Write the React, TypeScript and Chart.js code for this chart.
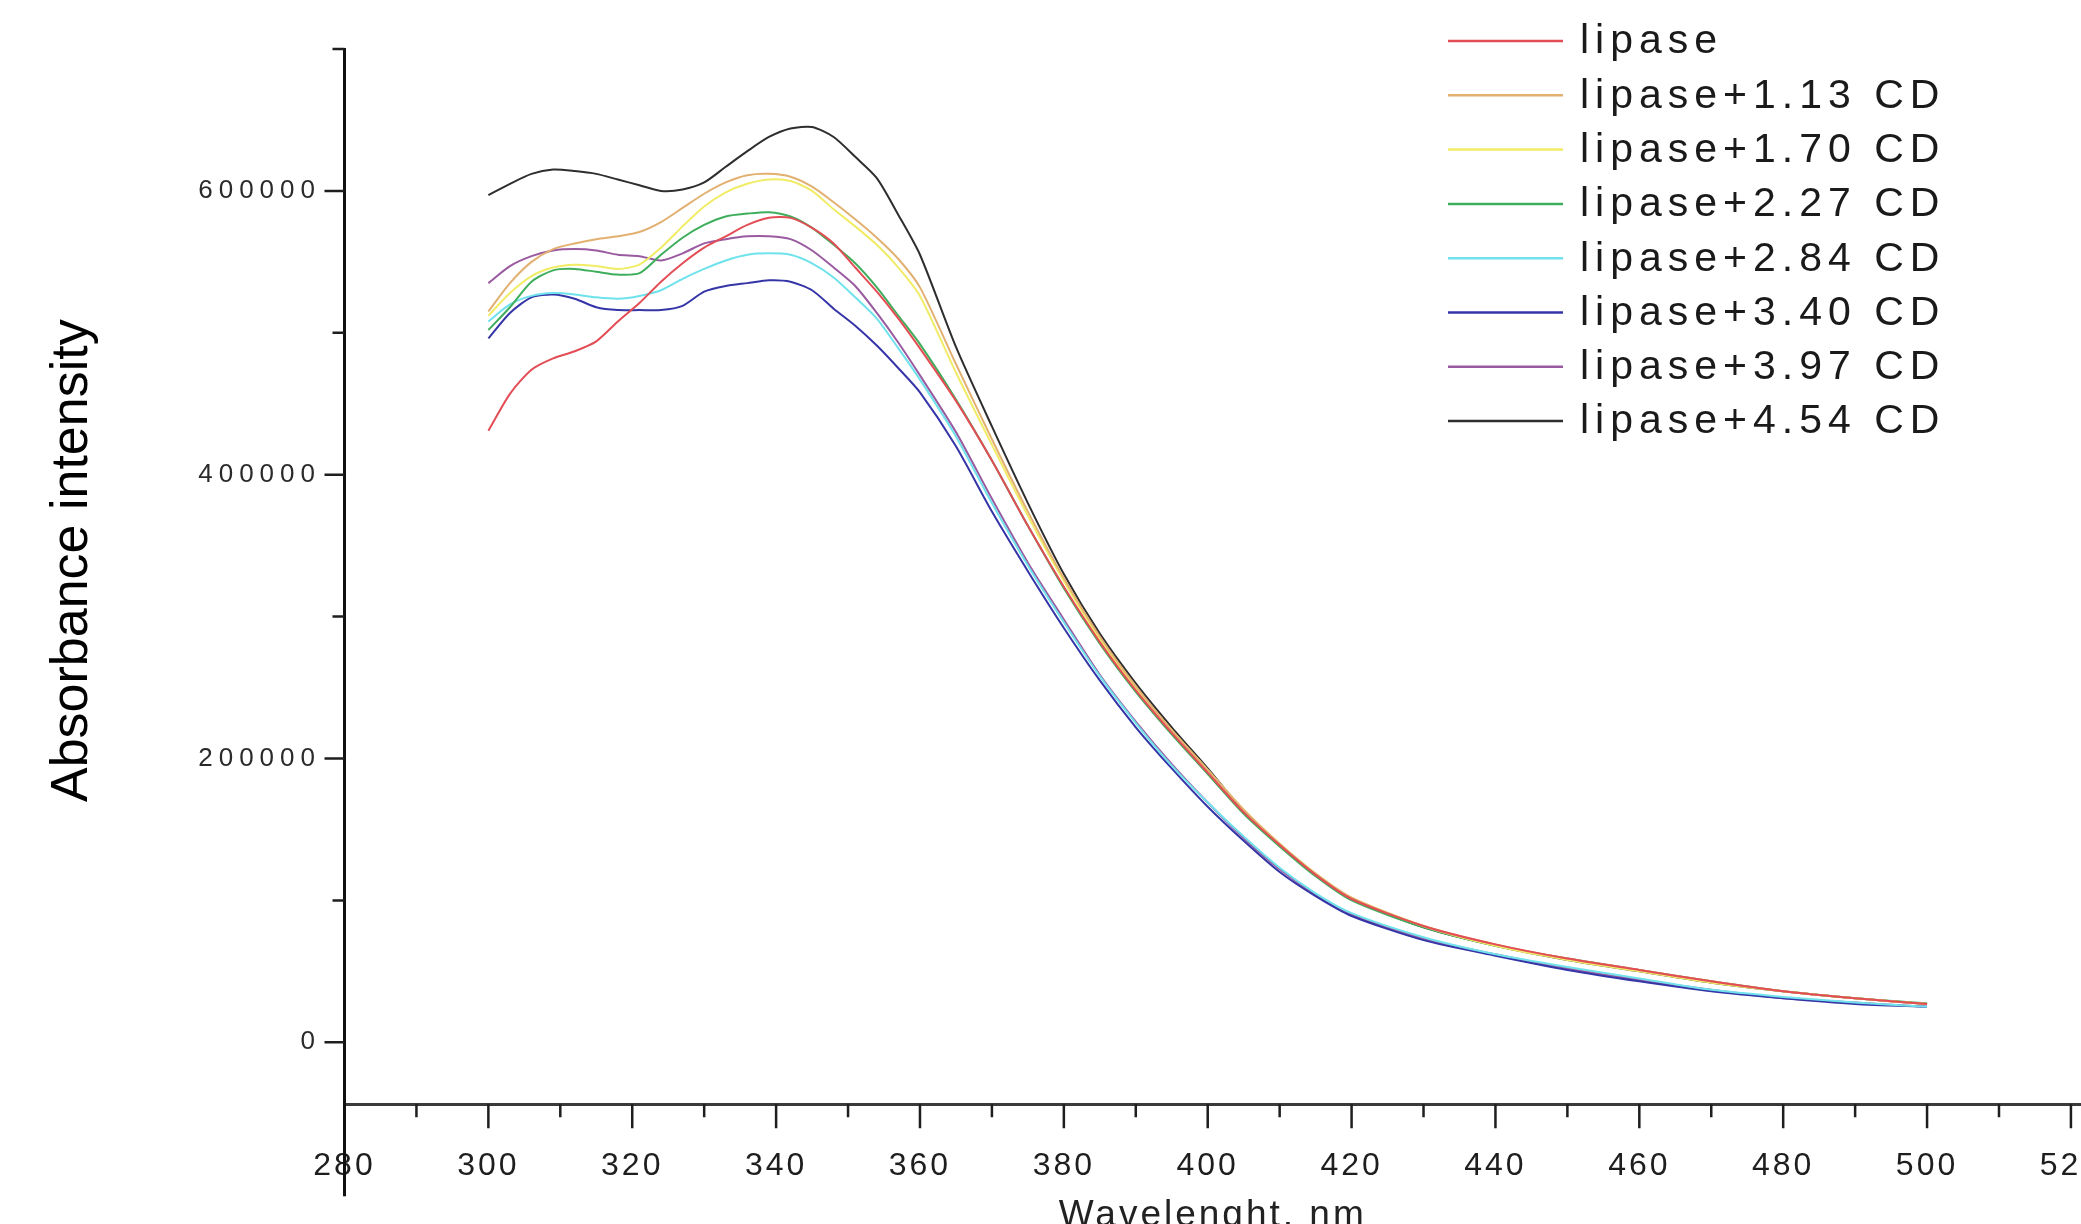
import React, { useEffect, useRef } from 'react';
import { Chart, registerables } from 'chart.js';

Chart.register(...registerables);

// ---------- data (wavelength in nm, intensity values in thousands) ----------
const WAVELENGTH_NM = [
  300, 303, 306, 309, 312, 315, 318, 321, 324, 327, 330, 333, 336, 339, 342, 345, 348, 351, 354, 357, 360,
  365, 370, 375, 380, 385, 390, 395, 400, 405, 410, 415, 420, 430, 440, 450, 460, 470, 480, 490, 500,
];

const LIPASE_K = [
  431, 457, 474, 482, 487, 494, 508, 521, 536, 549, 560, 568, 576, 581, 581, 574, 563, 546, 529, 510, 489,
  452, 410, 364, 321, 282, 248, 218, 190, 162, 139, 118, 101, 82, 69, 59, 51, 43, 36, 31, 27,
];
const LIPASE_113_K = [
  515, 535, 550, 559, 563, 566, 568, 571, 578, 588, 598, 606, 611, 612, 610, 603, 592, 580, 567, 552, 532,
  478, 425, 374, 327, 286, 251, 220, 192, 164, 140, 119, 102, 82, 69, 59, 51, 43, 36, 31, 27,
];
const LIPASE_170_K = [
  512, 528, 540, 546, 548, 547, 545, 548, 560, 575, 589, 599, 605, 608, 607, 600, 587, 575, 562, 546, 526,
  472, 421, 371, 325, 284, 250, 220, 192, 164, 140, 119, 102, 82, 68, 58, 50, 42, 36, 31, 27,
];
const LIPASE_227_K = [
  502, 518, 536, 544, 545, 543, 541, 542, 555, 567, 576, 582, 584, 585, 582, 574, 562, 549, 532, 512, 492,
  453, 410, 364, 320, 281, 247, 217, 189, 161, 138, 117, 100, 81, 68, 59, 51, 43, 36, 31, 27.5,
];
const LIPASE_284_K = [
  508, 520, 526, 528, 527, 525, 524, 526, 530, 538, 545, 551, 555, 556, 555, 549, 539, 525, 510, 489, 467,
  427, 380, 336, 296, 258, 225, 195, 169, 145, 123, 105, 91, 74, 62, 53, 45, 37, 32, 28, 25,
];
const LIPASE_340_K = [
  496, 514, 525, 527, 524, 518, 516, 516, 516, 519, 529, 533, 535, 537, 536, 530, 517, 505, 491, 475, 458,
  420, 374, 332, 292, 255, 222, 193, 166, 142, 120, 103, 89, 72, 61, 51, 43, 36, 31, 27, 25,
];
const LIPASE_397_K = [
  535, 547, 554, 558, 559, 558, 555, 554, 551, 556, 563, 566, 568, 568, 566, 558, 546, 533, 514, 493, 470,
  430, 383, 338, 298, 259, 226, 196, 169, 144, 122, 104, 90, 73, 62, 52, 44, 37, 31, 28, 25,
];
const LIPASE_454_K = [
  597, 605, 612, 615, 614, 612, 608, 604, 600, 601, 606, 617, 628, 638, 644, 645, 638, 624, 609, 583, 555,
  490, 434, 380, 330, 288, 253, 222, 193, 163, 139, 118, 101, 81, 68, 58, 50, 42, 36, 31, 27,
];

const SERIES_LABELS = [
  'lipase',
  'lipase+1.13 CD',
  'lipase+1.70 CD',
  'lipase+2.27 CD',
  'lipase+2.84 CD',
  'lipase+3.40 CD',
  'lipase+3.97 CD',
  'lipase+4.54 CD',
];
const SERIES_VALUES_K = [
  LIPASE_K, LIPASE_113_K, LIPASE_170_K, LIPASE_227_K,
  LIPASE_284_K, LIPASE_340_K, LIPASE_397_K, LIPASE_454_K,
];
const SERIES_COLORS = [
  '#e34d55', '#e2b071', '#f0ec66', '#3fae5c',
  '#6fe2ec', '#3535a8', '#9a5aa0', '#2e2e2e',
];

const X_MAJOR_TICKS = [280, 300, 320, 340, 360, 380, 400, 420, 440, 460, 480, 500, 520];
const X_MINOR_TICKS = [290, 310, 330, 350, 370, 390, 410, 430, 450, 470, 490, 510];
const Y_MAJOR_TICKS = [0, 200000, 400000, 600000];
const Y_MINOR_TICKS = [100000, 300000, 500000, 700000];

const X_TITLE = 'Wavelenght, nm';
const Y_TITLE = 'Absorbance intensity';

// ---------- layout ----------
const W = 2081;
const H = 1224;
const PLOT_LEFT = 344.5;
const PLOT_TOP = 49;
const PLOT_BOTTOM = 1104.3;
const FONT = "'Liberation Sans', Arial, Helvetica, sans-serif";

function patchScaleText(scale: any, labelSpacing: number, titleSpacing: number, titleDx: number, titleDy: number) {
  if (scale.__patched) return;
  scale.__patched = true;
  const origLabels = scale.drawLabels.bind(scale);
  scale.drawLabels = (area: any) => {
    const ctx = scale.ctx;
    ctx.save();
    (ctx as any).letterSpacing = labelSpacing + 'px';
    origLabels(area);
    ctx.restore();
  };
  const origTitle = scale.drawTitle.bind(scale);
  scale.drawTitle = () => {
    const ctx = scale.ctx;
    ctx.save();
    (ctx as any).letterSpacing = titleSpacing + 'px';
    ctx.translate(titleDx, titleDy);
    origTitle();
    ctx.restore();
  };
}

const axisDecorPlugin = {
  id: 'axisDecor',
  afterDraw(chart: any) {
    const { ctx, scales, chartArea } = chart;
    const x = scales.x;
    const y = scales.y;
    ctx.save();
    ctx.strokeStyle = '#1e1e1e';
    ctx.lineWidth = 2.5;
    ctx.beginPath();
    X_MAJOR_TICKS.forEach((v) => {
      const px = x.getPixelForValue(v);
      ctx.moveTo(px, chartArea.bottom);
      ctx.lineTo(px, chartArea.bottom + 24);
    });
    X_MINOR_TICKS.forEach((v) => {
      const px = x.getPixelForValue(v);
      ctx.moveTo(px, chartArea.bottom);
      ctx.lineTo(px, chartArea.bottom + 13);
    });
    Y_MAJOR_TICKS.forEach((v) => {
      const py = y.getPixelForValue(v);
      ctx.moveTo(chartArea.left, py);
      ctx.lineTo(chartArea.left - 20, py);
    });
    Y_MINOR_TICKS.forEach((v) => {
      const py = y.getPixelForValue(v);
      ctx.moveTo(chartArea.left, py);
      ctx.lineTo(chartArea.left - 12, py);
    });
    ctx.stroke();
    // y-axis line continues below the x axis
    ctx.strokeStyle = '#111';
    ctx.lineWidth = 3;
    ctx.beginPath();
    ctx.moveTo(chartArea.left, chartArea.bottom);
    ctx.lineTo(chartArea.left, chartArea.bottom + 92);
    ctx.stroke();
    ctx.restore();
  },
};

const curveLegendPlugin = {
  id: 'curveLegend',
  afterDraw(chart: any) {
    const { ctx } = chart;
    const lineX1 = 1448;
    const lineX2 = 1563;
    const textX = 1580;
    const startY = 41;
    const rowH = 54.3;
    ctx.save();
    ctx.font = `41px ${FONT}`;
    (ctx as any).letterSpacing = '6px';
    ctx.textBaseline = 'middle';
    ctx.textAlign = 'left';
    chart.data.datasets.forEach((ds: any, i: number) => {
      const yy = startY + i * rowH;
      ctx.strokeStyle = ds.borderColor;
      ctx.lineWidth = 2.5;
      ctx.beginPath();
      ctx.moveTo(lineX1, yy);
      ctx.lineTo(lineX2, yy);
      ctx.stroke();
      ctx.fillStyle = '#1a1a1a';
      ctx.fillText(ds.label, textX, yy + 1);
    });
    ctx.restore();
  },
};

export default function App() {
  const canvasRef = useRef<HTMLCanvasElement | null>(null);

  useEffect(() => {
    const canvas = canvasRef.current;
    if (!canvas) return;

    const datasets = SERIES_LABELS.map((label, i) => ({
      label,
      data: WAVELENGTH_NM.map((wl, j) => ({ x: wl, y: SERIES_VALUES_K[i][j] * 1000 })),
      borderColor: SERIES_COLORS[i],
      backgroundColor: SERIES_COLORS[i],
      borderWidth: 2,
      pointRadius: 0,
      tension: 0.25,
      fill: false,
    }));

    const chart = new Chart(canvas, {
      type: 'line',
      data: { datasets },
      options: {
        responsive: false,
        animation: false,
        devicePixelRatio: 1,
        layout: { padding: { top: PLOT_TOP, right: 0, bottom: 0, left: 0 } },
        plugins: {
          legend: { display: false },
          tooltip: { enabled: false },
        },
        scales: {
          x: {
            type: 'linear',
            min: 280,
            max: 521.4,
            grid: { display: true, drawOnChartArea: false, drawTicks: false },
            border: { display: true, color: '#3a3a3a', width: 3 },
            ticks: {
              color: '#1e1e1e',
              font: { family: FONT, size: 32, lineHeight: 1 },
              padding: 46,
              maxRotation: 0,
              minRotation: 0,
              autoSkip: false,
              callback: (v: any) => String(v),
            },
            title: {
              display: true,
              text: X_TITLE,
              color: '#222',
              font: { family: FONT, size: 37, lineHeight: 1 },
              padding: 0,
            },
            afterBuildTicks: (scale: any) => {
              scale.ticks = X_MAJOR_TICKS.map((v) => ({ value: v }));
            },
            afterFit: (scale: any) => {
              scale.height = H - PLOT_BOTTOM;
              scale.paddingLeft = 0;
              scale.paddingRight = 0;
              patchScaleText(scale, 3, 3, 0, 10);
            },
          },
          y: {
            type: 'linear',
            min: -43700,
            max: 700000,
            grid: { display: true, drawOnChartArea: false, drawTicks: false },
            border: { display: true, color: '#111', width: 3 },
            ticks: {
              color: '#2a2a2a',
              font: { family: FONT, size: 26, lineHeight: 1 },
              padding: 23.5,
              autoSkip: false,
              callback: (v: any) => String(v),
            },
            title: {
              display: true,
              text: Y_TITLE,
              color: '#000',
              font: { family: FONT, size: 52, lineHeight: 1 },
              padding: { top: 47, bottom: 0 },
            },
            afterBuildTicks: (scale: any) => {
              scale.ticks = Y_MAJOR_TICKS.map((v) => ({ value: v }));
            },
            afterFit: (scale: any) => {
              scale.width = PLOT_LEFT;
              scale.paddingTop = 0;
              scale.paddingBottom = 0;
              patchScaleText(scale, 6, 0, 0, -16);
            },
          },
        },
      },
      plugins: [axisDecorPlugin, curveLegendPlugin],
    } as any);

    return () => {
      chart.destroy();
    };
  }, []);

  return (
    <div style={{ position: 'absolute', left: 0, top: 0, width: W, height: H, background: '#fff', overflow: 'hidden' }}>
      <canvas ref={canvasRef} width={W} height={H} style={{ display: 'block', width: W, height: H }} />
    </div>
  );
}
